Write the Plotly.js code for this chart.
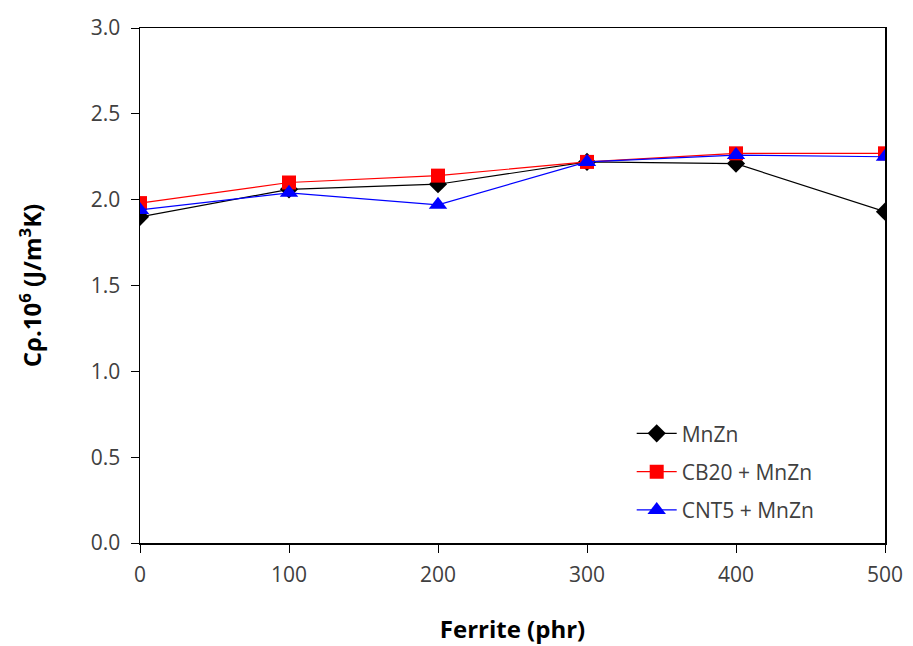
<!DOCTYPE html>
<html>
<head>
<meta charset="utf-8">
<script src="https://cdn.plot.ly/plotly-3.0.1.min.js"></script>
<style>html,body{margin:0;padding:0;background:#fff;}#chart{width:913px;height:646px;}</style>
</head>
<body>
<div id="chart"></div>
<script>
var ferrite = [0, 100, 200, 300, 400, 500];
var mnzn = [1.90, 2.06, 2.09, 2.22, 2.21, 1.93];
var cb20 = [1.98, 2.10, 2.14, 2.22, 2.27, 2.27];
var cnt5 = [1.94, 2.04, 1.97, 2.22, 2.26, 2.25];
var seriesNames = ['MnZn', 'CB20 + MnZn', 'CNT5 + MnZn'];

var font = "'Open Sans', sans-serif";
var traces = [
  {x: ferrite, y: mnzn, name: seriesNames[0], legendgroup: 'a', mode: 'lines+markers',
   line: {color: '#000000', width: 1.2}, marker: {symbol: 'diamond', size: 14, color: '#000000'}},
  {x: ferrite, y: cb20, name: seriesNames[1], legendgroup: 'b', mode: 'lines+markers',
   line: {color: '#ff0000', width: 1.2}, marker: {symbol: 'square', size: 14, color: '#ff0000'}},
  {x: ferrite, y: cnt5, name: seriesNames[2], legendgroup: 'c', mode: 'lines+markers',
   line: {color: '#0000ff', width: 1.2}, marker: {symbol: 'triangle-up', size: 16, color: '#0000ff'}}
];
var layout = {
  width: 913, height: 646,
  margin: {l: 140, r: 28, t: 28, b: 103},
  paper_bgcolor: '#fff', plot_bgcolor: '#fff',
  showlegend: true,
  legend: {x: 0.66, y: 0.252, xanchor: 'left', yanchor: 'top', bgcolor: 'rgba(255,255,255,0)',
           font: {family: font, size: 21, color: '#404040'}, itemwidth: 40, tracegroupgap: 8},
  xaxis: {range: [0, 500], dtick: 100, tick0: 0, showgrid: false, zeroline: false,
          showline: true, linecolor: '#000', linewidth: 1.5, mirror: true,
          ticks: 'outside', ticklen: 8, tickcolor: '#000', ticklabelstandoff: 4,
          tickfont: {family: font, size: 21, color: '#404040'},
          title: {text: '<b>Ferrite (phr)</b>', font: {family: font, size: 24, color: '#000'}, standoff: 34}},
  yaxis: {range: [0, 3], dtick: 0.5, tick0: 0, tickformat: '.1f', showgrid: false, zeroline: false,
          showline: true, linecolor: '#000', linewidth: 1.5, mirror: true,
          ticks: 'outside', ticklen: 8, tickcolor: '#000', ticklabelstandoff: 6,
          tickfont: {family: font, size: 21, color: '#404040'},
          title: {text: '<b>Cρ.10<sup>6</sup> (J/m<sup>3</sup>K)</b>', font: {family: font, size: 24, color: '#000'}, standoff: 42}}
};
Plotly.newPlot('chart', traces, layout, {displayModeBar: false, staticPlot: true});
</script>
</body>
</html>
